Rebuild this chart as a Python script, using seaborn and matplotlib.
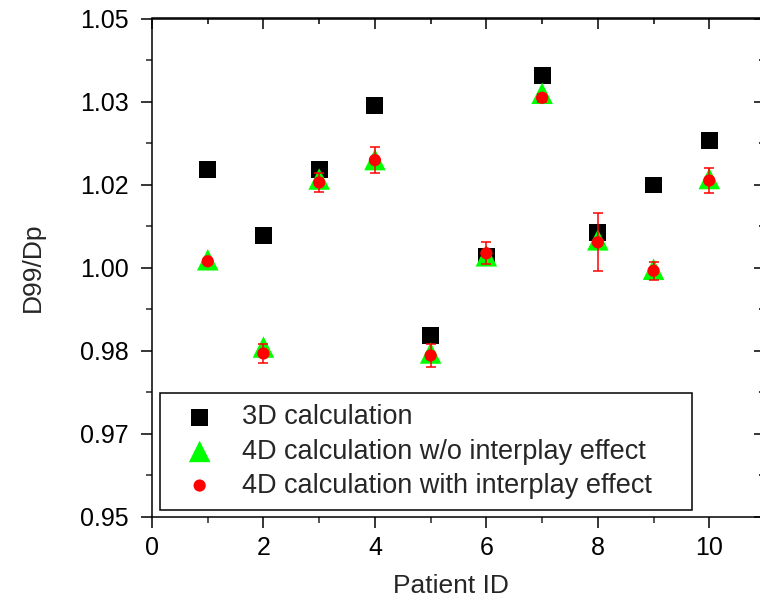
import numpy as np
import pandas as pd
import matplotlib
matplotlib.use("Agg")
import matplotlib.pyplot as plt
from matplotlib.ticker import FixedLocator, FuncFormatter, NullFormatter
import seaborn as sns

patient_id = [1, 2, 3, 4, 5, 6, 7, 8, 9, 10]
calc_3d = [1.0198, 1.0064, 1.0198, 1.0325, 0.9864, 1.0022, 1.0385, 1.0071, 1.0166, 1.0255]
calc_4d_wo = [1.0016, 0.9841, 1.0178, 1.0217, 0.9829, 1.0024, 1.0350, 1.0056, 0.9997, 1.0179]
calc_4d_with = [1.0013, 0.9828, 1.0171, 1.0216, 0.9824, 1.0029, 1.0341, 1.0051, 0.9994, 1.0175]
calc_4d_with_err = [0.0005, 0.0020, 0.0019, 0.0026, 0.0024, 0.0022, 0.0008, 0.0058, 0.0018, 0.0025]

labels = ["3D calculation", "4D calculation w/o interplay effect", "4D calculation with interplay effect"]

x_major = [0, 2, 4, 6, 8, 10]
x_minor = [1, 3, 5, 7, 9, 11]
y_major = [0.95 + k / 60 for k in range(7)]
y_minor = [0.95 + (k + 0.5) / 60 for k in range(6)]

sns.set_theme(style="ticks")
plt.rcParams['font.family'] = ['Liberation Sans', 'DejaVu Sans']

fig = plt.figure(figsize=(7.6, 6.04), dpi=100)
ax = fig.add_axes([152/760, 87/604, (765-152)/760, (517-18.5)/604])

df = pd.DataFrame({"pid": patient_id, "d3": calc_3d, "d4wo": calc_4d_wo, "d4w": calc_4d_with})

sns.scatterplot(data=df, x="pid", y="d3", marker="s", s=12.2**2, color="black",
                edgecolor="none", label=labels[0], ax=ax, zorder=3)
sns.scatterplot(data=df, x="pid", y="d4wo", marker="^", s=15.5**2, color="#00ff00",
                edgecolor="none", label=labels[1], ax=ax, zorder=4)
ax.errorbar(patient_id, calc_4d_with, yerr=calc_4d_with_err, fmt="none", ecolor="red",
            elinewidth=1.1, capsize=3.8, capthick=1.1, zorder=5)
sns.scatterplot(data=df, x="pid", y="d4w", marker="o", s=8.8**2, color="red",
                edgecolor="none", label=labels[2], ax=ax, zorder=6)

ax.set_xlim(0, 11)
ax.set_ylim(0.95, 1.05)
ax.xaxis.set_major_locator(FixedLocator(x_major))
ax.xaxis.set_minor_locator(FixedLocator(x_minor))
ax.yaxis.set_major_locator(FixedLocator(y_major))
ax.yaxis.set_minor_locator(FixedLocator(y_minor))
ax.yaxis.set_major_formatter(FuncFormatter(lambda v, p: f"{v:.2f}"))

for sp in ax.spines.values():
    sp.set_visible(True)
    sp.set_color("black")
    sp.set_linewidth(1.1)

ax.tick_params(axis="both", which="major", direction="out", length=8, width=1.1,
               labelsize=18, colors="black")
ax.tick_params(axis="both", which="minor", direction="out", length=4, width=1.1)
ax.tick_params(axis="x", which="major", pad=6)
ax.tick_params(axis="y", which="major", pad=9)

# inward ticks on top and right
secx = ax.secondary_xaxis("top")
secx.xaxis.set_major_locator(FixedLocator(x_major))
secx.xaxis.set_minor_locator(FixedLocator(x_minor))
secx.xaxis.set_major_formatter(NullFormatter())
secx.tick_params(which="major", direction="in", length=8, width=1.1, colors="black")
secx.tick_params(which="minor", direction="in", length=4, width=1.1, colors="black")
secx.spines["top"].set_linewidth(1.1)
secx.spines["top"].set_color("black")

secy = ax.secondary_yaxis("right")
secy.yaxis.set_major_locator(FixedLocator(y_major))
secy.yaxis.set_minor_locator(FixedLocator(y_minor))
secy.yaxis.set_major_formatter(NullFormatter())
secy.tick_params(which="major", direction="in", length=8, width=1.1, colors="black")
secy.tick_params(which="minor", direction="in", length=4, width=1.1, colors="black")

ax.set_xlabel("Patient ID", fontsize=19)
ax.set_ylabel("D99/Dp", fontsize=19)
ax.xaxis.set_label_coords(0.487, -0.115)
ax.yaxis.set_label_coords(-0.174, 0.5)
ax.grid(False)

leg = ax.legend(loc="lower left", bbox_to_anchor=(0.013, 0.014, 0.868, 0.2), mode="expand",
                frameon=True, fancybox=False, fontsize=19.5, handlelength=2.09,
                handletextpad=0.51, borderpad=0.42, labelspacing=0.3, borderaxespad=0)
leg.get_frame().set_edgecolor("black")
leg.get_frame().set_linewidth(1.1)
leg.get_frame().set_alpha(1)

fig.savefig("out.png", dpi=100)
